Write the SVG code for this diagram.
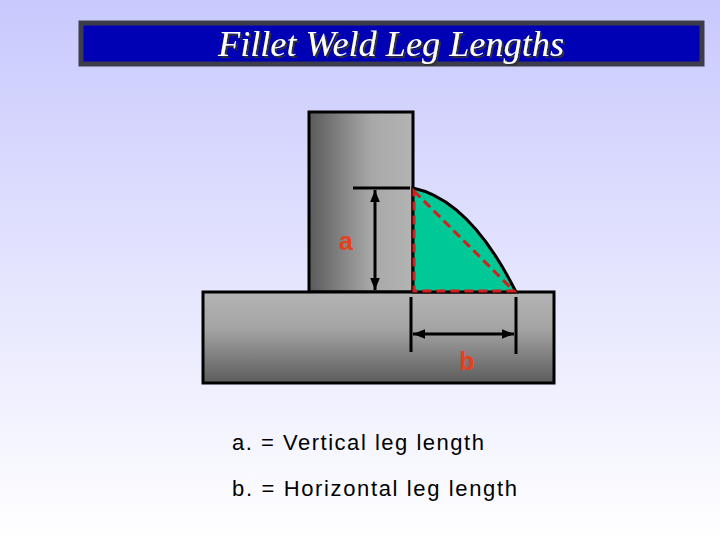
<svg xmlns="http://www.w3.org/2000/svg" width="720" height="540" viewBox="0 0 720 540">
<defs>
<linearGradient id="bg" x1="0" y1="0" x2="0" y2="1"><stop offset="0" stop-color="#c8c9fd"/><stop offset="1" stop-color="#ffffff"/></linearGradient>
<linearGradient id="vg" x1="0" y1="0" x2="1" y2="0"><stop offset="0" stop-color="#5a5a5a"/><stop offset="0.6" stop-color="#a8a8a8"/><stop offset="1" stop-color="#b4b4b4"/></linearGradient>
<linearGradient id="hg" x1="0" y1="0" x2="0" y2="1"><stop offset="0" stop-color="#b4b4b4"/><stop offset="0.4" stop-color="#a4a4a4"/><stop offset="1" stop-color="#5c5c5c"/></linearGradient>
<marker id="ar" viewBox="0 0 10 10" refX="10" refY="5" markerWidth="4" markerHeight="4" orient="auto-start-reverse"><path d="M0,1 L10,5 L0,9 z" fill="#000"/></marker>
<filter id="sh" x="-5%" y="-20%" width="110%" height="140%"><feDropShadow dx="2" dy="2" stdDeviation="0.5" flood-color="#333"/></filter>
</defs>
<style>.ln{stroke:#000;stroke-width:3;fill:none}.lbl{font-family:"Liberation Sans",Arial,sans-serif;font-weight:bold;font-size:25px;fill:#e8401a}.cap{font-family:"Liberation Sans",Arial,sans-serif;font-size:22px;fill:#000}</style>
<rect width="720" height="540" fill="url(#bg)"/>
<g id="title">
<rect x="81" y="23" width="621" height="41" fill="#0000b4" stroke="#3c3c4a" stroke-width="5"/>
<text x="218" y="56" textLength="346" lengthAdjust="spacingAndGlyphs" font-family="Liberation Serif,serif" font-style="italic" font-size="35" fill="#fff" filter="url(#sh)">Fillet Weld Leg Lengths</text>
</g>
<g id="vertical-plate"><rect x="309" y="112" width="104" height="180" fill="url(#vg)" stroke="#000" stroke-width="3"/></g>
<g id="base-plate"><rect x="203" y="292" width="351" height="91" fill="url(#hg)" stroke="#000" stroke-width="3"/></g>
<g id="weld">
<path d="M413,188 Q470,200 516,292 L413,292 Z" fill="#00c896" stroke="#000" stroke-width="3"/>
<path d="M414,191 L514,291 L414,291 Z" fill="none" stroke="#d21e1e" stroke-width="3" stroke-dasharray="9,5"/>
</g>
<g id="connectors">
<line class="ln" x1="353" y1="188" x2="410" y2="188"/>
<line class="ln" x1="375" y1="190" x2="375" y2="290" marker-start="url(#ar)" marker-end="url(#ar)"/>
<line class="ln" x1="411" y1="297" x2="411" y2="352"/>
<line class="ln" x1="516" y1="297" x2="516" y2="354"/>
<line class="ln" x1="413" y1="334" x2="514" y2="334" marker-start="url(#ar)" marker-end="url(#ar)"/>
</g>
<text class="lbl" x="346" y="250" text-anchor="middle">a</text>
<text class="lbl" x="467" y="370" text-anchor="middle">b</text>
<text class="cap" x="232" y="450" textLength="252" lengthAdjust="spacing">a. = Vertical leg length</text>
<text class="cap" x="232" y="496" textLength="285" lengthAdjust="spacing">b. = Horizontal leg length</text>
</svg>
